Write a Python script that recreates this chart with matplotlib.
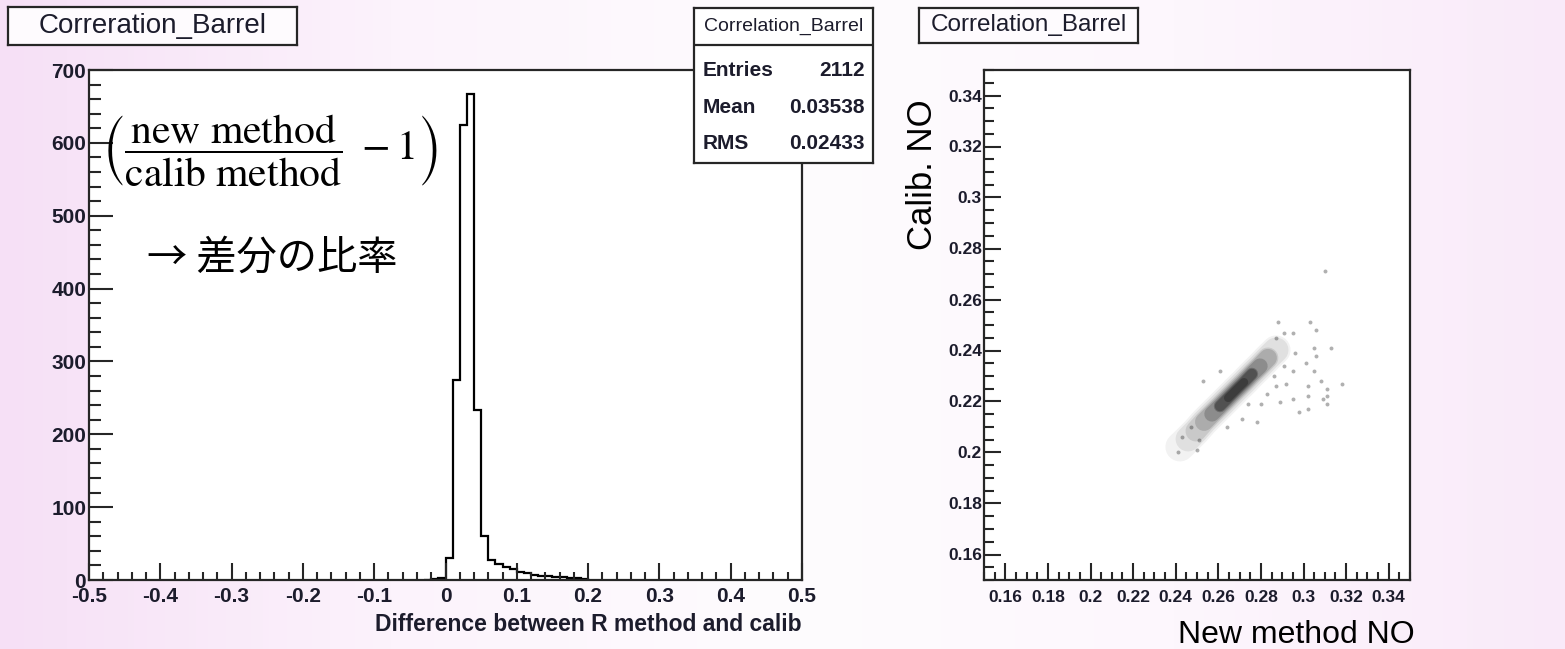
import numpy as np
import matplotlib
matplotlib.use("Agg")
import matplotlib.pyplot as plt
from matplotlib.ticker import MultipleLocator, FuncFormatter
from matplotlib.colors import LinearSegmentedColormap

plt.rcParams['font.family'] = ['Liberation Sans', 'DejaVu Sans']
plt.rcParams['axes.unicode_minus'] = False

# --- data -----------------------------------------------------------------
# histogram of (new/calib - 1), bins of 0.01 starting at -0.03
hist_start = -0.03
hist_width = 0.01
hist_counts = [0, 2, 3, 30, 275, 625, 667, 234, 60, 27, 22, 18, 15, 11,
               9, 7, 6, 5, 4, 4, 3, 3, 2]
stat_entries = 2112
stat_mean = 0.03538
stat_rms = 0.02433

# dense core of the correlation plot (ridge points with relative density)
ridge_x = [0.2420, 0.2458, 0.2495, 0.2533, 0.2570, 0.2608, 0.2646,
           0.2683, 0.2721, 0.2758, 0.2796, 0.2833, 0.2871]
ridge_y = [0.2022, 0.2053, 0.2084, 0.2120, 0.2151, 0.2182, 0.2214,
           0.2245, 0.2276, 0.2308, 0.2339, 0.2371, 0.2402]
ridge_density = [0.15, 0.25, 0.35, 0.5, 0.7, 0.85, 0.95, 1.0, 0.95,
                 0.85, 0.7, 0.5, 0.3]

# isolated entries around the core
out_x = [0.288, 0.303, 0.306, 0.295, 0.291, 0.287, 0.313, 0.305, 0.296,
         0.306, 0.301, 0.305, 0.295, 0.291, 0.286, 0.308, 0.318, 0.302,
         0.311, 0.292, 0.287, 0.283, 0.302, 0.309, 0.295, 0.289, 0.280,
         0.274, 0.302, 0.298, 0.278, 0.271, 0.264, 0.253, 0.261, 0.250,
         0.241, 0.243, 0.251, 0.247, 0.310, 0.311, 0.311]
out_y = [0.251, 0.251, 0.248, 0.247, 0.247, 0.245, 0.241, 0.241, 0.239,
         0.238, 0.235, 0.232, 0.232, 0.234, 0.230, 0.228, 0.227, 0.226,
         0.225, 0.227, 0.226, 0.223, 0.222, 0.221, 0.221, 0.220, 0.219,
         0.219, 0.217, 0.216, 0.212, 0.213, 0.210, 0.228, 0.232, 0.201,
         0.200, 0.206, 0.205, 0.210, 0.271, 0.222, 0.219]

# --- figure ---------------------------------------------------------------
W, H = 1565, 649
fig = plt.figure(figsize=(W / 100, H / 100), dpi=100)
INK = '#1c1c2c'


def px_axes(x0, y0, x1, y1, **kw):
    # axes placed by pixel box (top-left origin)
    return fig.add_axes([x0 / W, 1 - y1 / H, (x1 - x0) / W, (y1 - y0) / H], **kw)


def frame(ax, lw=1.6):
    for s in ax.spines.values():
        s.set_linewidth(lw)
        s.set_color('#262626')


def text_box(x0, y0, x1, y1, label, size):
    b = px_axes(x0, y0, x1, y1, zorder=6)
    b.set_xticks([])
    b.set_yticks([])
    b.set_facecolor('#fefbfe')
    frame(b)
    b.text(0.5, 0.5, label, ha='center', va='center', fontsize=size,
           color=INK, transform=b.transAxes)
    return b


def bold_ticks(ax):
    for lbl in ax.get_xticklabels() + ax.get_yticklabels():
        lbl.set_fontweight('bold')


# slide background
bg = px_axes(0, 0, W, H, zorder=-10)
slide = LinearSegmentedColormap.from_list(
    'slide', ['#f6e0f6', '#fcf3fc', '#fefcfe', '#fdf7fd', '#f9eaf9'])
bg.imshow(np.linspace(0, 1, 256)[None, :], cmap=slide, aspect='auto',
          extent=[0, 1, 0, 1])
bg.axis('off')

fmt = FuncFormatter(lambda v, p: '%g' % round(v, 6))

## 1. Histogram
ax1 = px_axes(89, 70, 802, 580)
edges = hist_start + hist_width * np.arange(len(hist_counts) + 1)
ax1.stairs(hist_counts, edges, color='black', lw=1.6)
ax1.set_xlim(-0.5, 0.5)
ax1.set_ylim(0, 700)
frame(ax1)
ax1.xaxis.set_major_locator(MultipleLocator(0.1))
ax1.xaxis.set_minor_locator(MultipleLocator(0.02))
ax1.yaxis.set_major_locator(MultipleLocator(100))
ax1.yaxis.set_minor_locator(MultipleLocator(20))
ax1.xaxis.set_major_formatter(fmt)
ax1.yaxis.set_major_formatter(fmt)
ax1.tick_params(which='both', direction='in', width=1.5, color='#262626',
                labelsize=15, labelcolor=INK)
ax1.tick_params(axis='x', which='major', length=12, pad=5)
ax1.tick_params(axis='x', which='minor', length=6)
ax1.tick_params(axis='y', which='major', length=17, pad=2)
ax1.tick_params(axis='y', which='minor', length=8.5)
bold_ticks(ax1)
ax1.set_xlabel('Difference between R method and calib', fontsize=16.5,
               color=INK, loc='right', weight='bold')
ax1.xaxis.set_label_coords(1.0, -0.064)
ax1.xaxis.label.set_va('top')

ax1.text(0.253, 0.841,
         r'$\left(\dfrac{\mathrm{new\ method}}{\mathrm{calib\ method}}\ -1\right)$',
         transform=ax1.transAxes, ha='center', va='center', fontsize=30,
         math_fontfamily='stix')
ax1.text(0.082, 0.631, '→ 差分の比率', transform=ax1.transAxes, ha='left',
         va='center', fontsize=29,
         family=['Noto Sans CJK JP', 'DejaVu Sans'])

# stats box
st = px_axes(694, 8, 873, 163, zorder=7)
st.set_xticks([])
st.set_yticks([])
st.set_xlim(0, 1)
st.set_ylim(0, 1)
frame(st)
st.axhline(0.761, color='#262626', lw=1.6)
st.text(0.5, 0.881, 'Correlation_Barrel', ha='center', va='center',
        fontsize=14, color=INK)
rows = [('Entries', '%d' % stat_entries), ('Mean', '%.5f' % stat_mean),
        ('RMS', '%.5f' % stat_rms)]
for (name, val), yy in zip(rows, [0.6, 0.361, 0.123]):
    st.text(0.05, yy, name, ha='left', va='center', fontsize=15,
            color=INK, weight='bold')
    st.text(0.955, yy, val, ha='right', va='center', fontsize=15,
            color=INK, weight='bold')

text_box(8, 7, 297, 45, 'Correration_Barrel', 20)

## 2. Correlation plot
ax2 = px_axes(984, 70, 1410, 580)
ax2.set_xlim(0.15, 0.35)
ax2.set_ylim(0.15, 0.35)
frame(ax2)

# dense core: faint stacked bands, narrower and darker over denser parts
rx = np.array(ridge_x)
ry = np.array(ridge_y)
dens = np.array(ridge_density)
band_widths = [21, 18, 15, 13, 11, 9, 7.5, 6]
band_levels = [0.1, 0.2, 0.35, 0.5, 0.6, 0.75, 0.85, 0.93]
band_alpha = [0.05, 0.07, 0.10, 0.14, 0.18, 0.22, 0.25, 0.25]
for lw, level, a in zip(band_widths, band_levels, band_alpha):
    m = dens >= level
    ax2.plot(rx[m], ry[m], color='black', alpha=a, lw=lw,
             solid_capstyle='round')
ax2.scatter(out_x, out_y, s=8, c='#b0b0b0', linewidths=0)

ax2.xaxis.set_major_locator(MultipleLocator(0.02))
ax2.xaxis.set_minor_locator(MultipleLocator(0.005))
ax2.yaxis.set_major_locator(MultipleLocator(0.02))
ax2.yaxis.set_minor_locator(MultipleLocator(0.005))
ax2.xaxis.set_major_formatter(fmt)
ax2.yaxis.set_major_formatter(fmt)
ax2.tick_params(which='both', direction='in', width=1.5, color='#262626',
                labelsize=12.5, labelcolor=INK)
ax2.tick_params(axis='x', which='major', length=12, pad=7)
ax2.tick_params(axis='x', which='minor', length=6)
ax2.tick_params(axis='y', which='major', length=12.5, pad=1.5)
ax2.tick_params(axis='y', which='minor', length=7)
bold_ticks(ax2)

ax2.text(-0.145, 0.794, 'Calib. NO', transform=ax2.transAxes, rotation=90,
         ha='center', va='center', fontsize=25)
ax2.text(1.012, -0.078, 'New method NO', transform=ax2.transAxes,
         ha='right', va='top', fontsize=23)

text_box(919, 8, 1138, 43, 'Correlation_Barrel', 17.5)

fig.savefig('out.png', dpi=100)
